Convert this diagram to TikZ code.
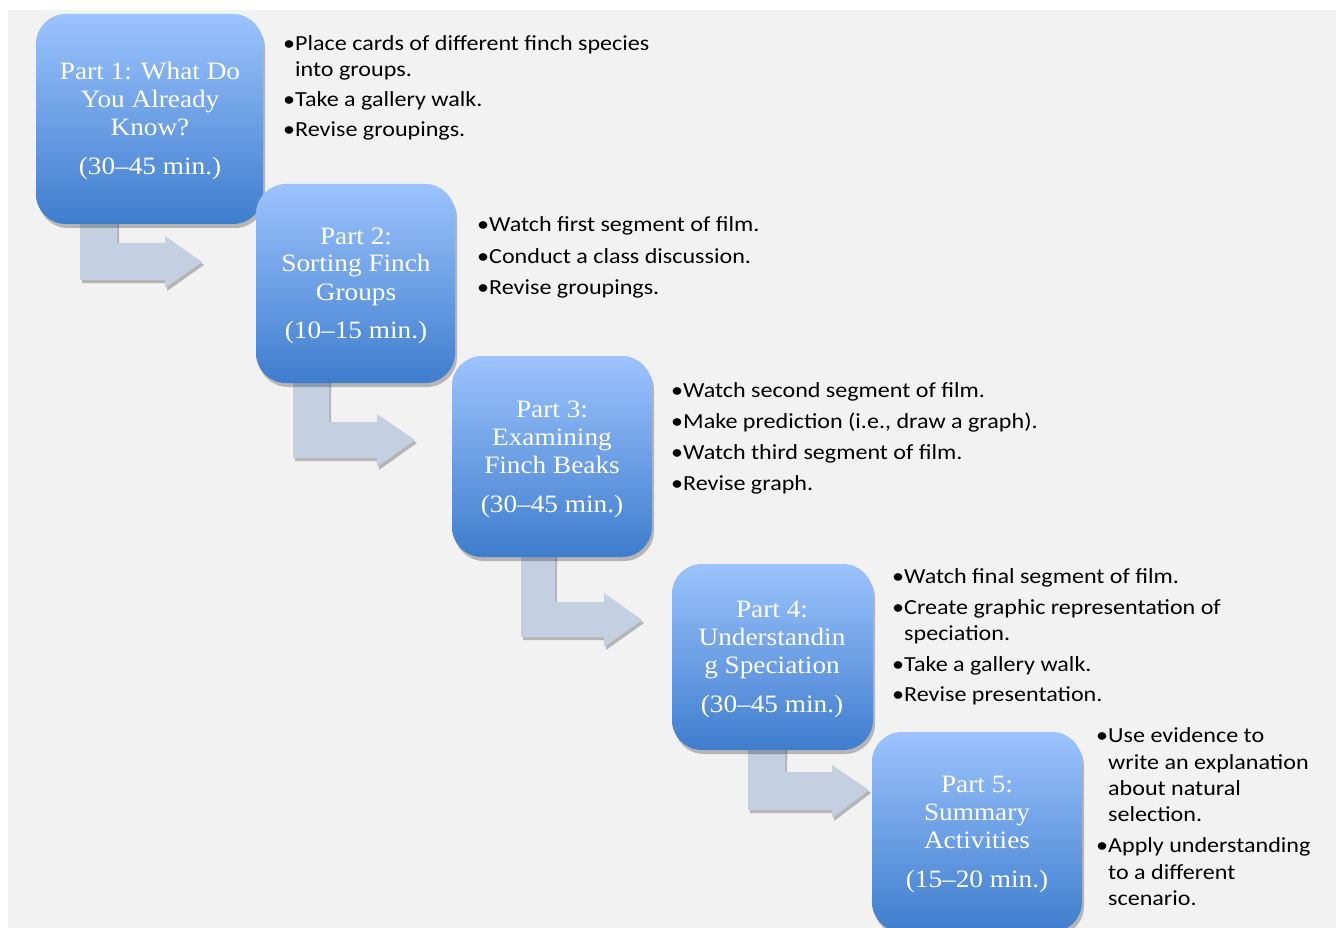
\documentclass[tikz,border=0pt]{standalone}
\usepackage{fontspec}
\setmainfont[FakeStretch=1.09]{Liberation Serif}
\newfontfamily\calib[FakeStretch=1.12]{Carlito}
\usetikzlibrary{shadows}
\definecolor{bg}{HTML}{F2F2F2}
\definecolor{boxtop}{HTML}{9CC3FD}
\definecolor{boxbot}{HTML}{3F7DCD}
\definecolor{arrowc}{HTML}{C4CFE2}
\tikzset{
  partbox/.style={rectangle, rounded corners=30pt, inner sep=0pt, top color=boxtop, bottom color=boxbot, draw=none,
    drop shadow={shadow xshift=2pt, shadow yshift=-4pt, opacity=0.25, fill=black}},
  bentarrow/.style={fill=arrowc, drop shadow={shadow xshift=2pt, shadow yshift=-3pt, opacity=0.25, fill=black}},
  boxtxt/.style={inner sep=0pt, anchor=base, text=white, font=\fontsize{25}{28}\selectfont},
  bultxt/.style={inner sep=0pt, anchor=base west, text=black, font=\calib\fontsize{21.5}{26}\selectfont},
}
\newcommand\bdot[3]{\node[bultxt] (#1) at (#2,#3) {•};}
\newcommand\bline[4]{\node[bultxt] (#1) at (#2,#3) {#4};}
\begin{document}
\begin{tikzpicture}[x=1pt,y=-1pt]
\useasboundingbox (0,0) rectangle (1336,928);
\fill[white] (0,0) rectangle (1336,928);
\fill[bg] (8,10) rectangle (1336,928);
\begin{scope}
\clip (0,0) rectangle (1336,928);
% bent arrows
\fill[bentarrow] (80,215) -- (117,215) -- (117,243) -- (165,243) -- (165,236) -- (202,262) -- (165,288) -- (165,280) -- (80,280) -- cycle;
\fill[bentarrow] (293,375) -- (329,375) -- (329,422) -- (377,422) -- (377,414) -- (415,440) -- (377,467) -- (377,458) -- (293,458) -- cycle;
\fill[bentarrow] (521,549) -- (555,549) -- (555,602) -- (604,602) -- (604,593) -- (642,620) -- (604,647) -- (604,637) -- (521,637) -- cycle;
\fill[bentarrow] (748,742) -- (785,742) -- (785,772) -- (832,772) -- (832,765) -- (869,790) -- (832,818) -- (832,810) -- (748,810) -- cycle;
% boxes
\node[partbox, minimum width=227pt, minimum height=210pt] (box1) at (149.5,119) {};
\node[partbox, minimum width=199pt, minimum height=199pt] (box2) at (355.5,283.5) {};
\node[partbox, minimum width=200pt, minimum height=201pt] (box3) at (552,456.5) {};
\node[partbox, minimum width=201pt, minimum height=186pt] (box4) at (772.5,657) {};
\node[partbox, minimum width=210pt, minimum height=200pt] (box5) at (977,832) {};
\end{scope}
% box texts
\node[boxtxt] (t1a) at (150,80) {Part 1: What Do};
\node[boxtxt] (t1b) at (150,108) {You Already};
\node[boxtxt] (t1c) at (150,136) {Know?};
\node[boxtxt] (t1d) at (150,175) {(30–45 min.)};
\node[boxtxt] (t2a) at (356,244) {Part 2:};
\node[boxtxt] (t2b) at (356,272) {Sorting Finch};
\node[boxtxt] (t2c) at (356,300) {Groups};
\node[boxtxt] (t2d) at (356,338) {(10–15 min.)};
\node[boxtxt] (t3a) at (552,417) {Part 3:};
\node[boxtxt] (t3b) at (552,445) {Examining};
\node[boxtxt] (t3c) at (552,473) {Finch Beaks};
\node[boxtxt] (t3d) at (552,512) {(30–45 min.)};
\node[boxtxt] (t4a) at (772,617) {Part 4:};
\node[boxtxt] (t4b) at (772,645) {Understandin};
\node[boxtxt] (t4c) at (772,673) {g Speciation};
\node[boxtxt] (t4d) at (772,712) {(30–45 min.)};
\node[boxtxt] (t5a) at (977,792) {Part 5:};
\node[boxtxt] (t5b) at (977,820) {Summary};
\node[boxtxt] (t5c) at (977,848) {Activities};
\node[boxtxt] (t5d) at (977,887) {(15–20 min.)};
% bullets part 1
\bdot{d1a}{283}{51}\bline{l1a}{295}{51}{Place cards of different finch species}
\bline{l1b}{295}{77}{into groups.}
\bdot{d1c}{283}{107}\bline{l1c}{295}{107}{Take a gallery walk.}
\bdot{d1d}{283}{137}\bline{l1d}{295}{137}{Revise groupings.}
% part 2
\bdot{d2a}{477}{232}\bline{l2a}{489}{232}{Watch first segment of film.}
\bdot{d2b}{477}{263}\bline{l2b}{489}{263}{Conduct a class discussion.}
\bdot{d2c}{477}{294}\bline{l2c}{489}{294}{Revise groupings.}
% part 3
\bdot{d3a}{671}{397}\bline{l3a}{683}{397}{Watch second segment of film.}
\bdot{d3b}{671}{428}\bline{l3b}{683}{428}{Make prediction (i.e., draw a graph).}
\bdot{d3c}{671}{459}\bline{l3c}{683}{459}{Watch third segment of film.}
\bdot{d3d}{671}{490}\bline{l3d}{683}{490}{Revise graph.}
% part 4
\bdot{d4a}{892}{583}\bline{l4a}{904}{583}{Watch final segment of film.}
\bdot{d4b}{892}{614}\bline{l4b}{904}{614}{Create graphic representation of}
\bline{l4c}{904}{640}{speciation.}
\bdot{d4d}{892}{671}\bline{l4d}{904}{671}{Take a gallery walk.}
\bdot{d4e}{892}{701}\bline{l4e}{904}{701}{Revise presentation.}
% part 5
\bdot{d5a}{1096}{742}\bline{l5a}{1108}{742}{Use evidence to}
\bline{l5b}{1108}{769}{write an explanation}
\bline{l5c}{1108}{795}{about natural}
\bline{l5d}{1108}{821}{selection.}
\bdot{d5e}{1096}{852}\bline{l5e}{1108}{852}{Apply understanding}
\bline{l5f}{1108}{879}{to a different}
\bline{l5g}{1108}{905}{scenario.}
\end{tikzpicture}
\end{document}
